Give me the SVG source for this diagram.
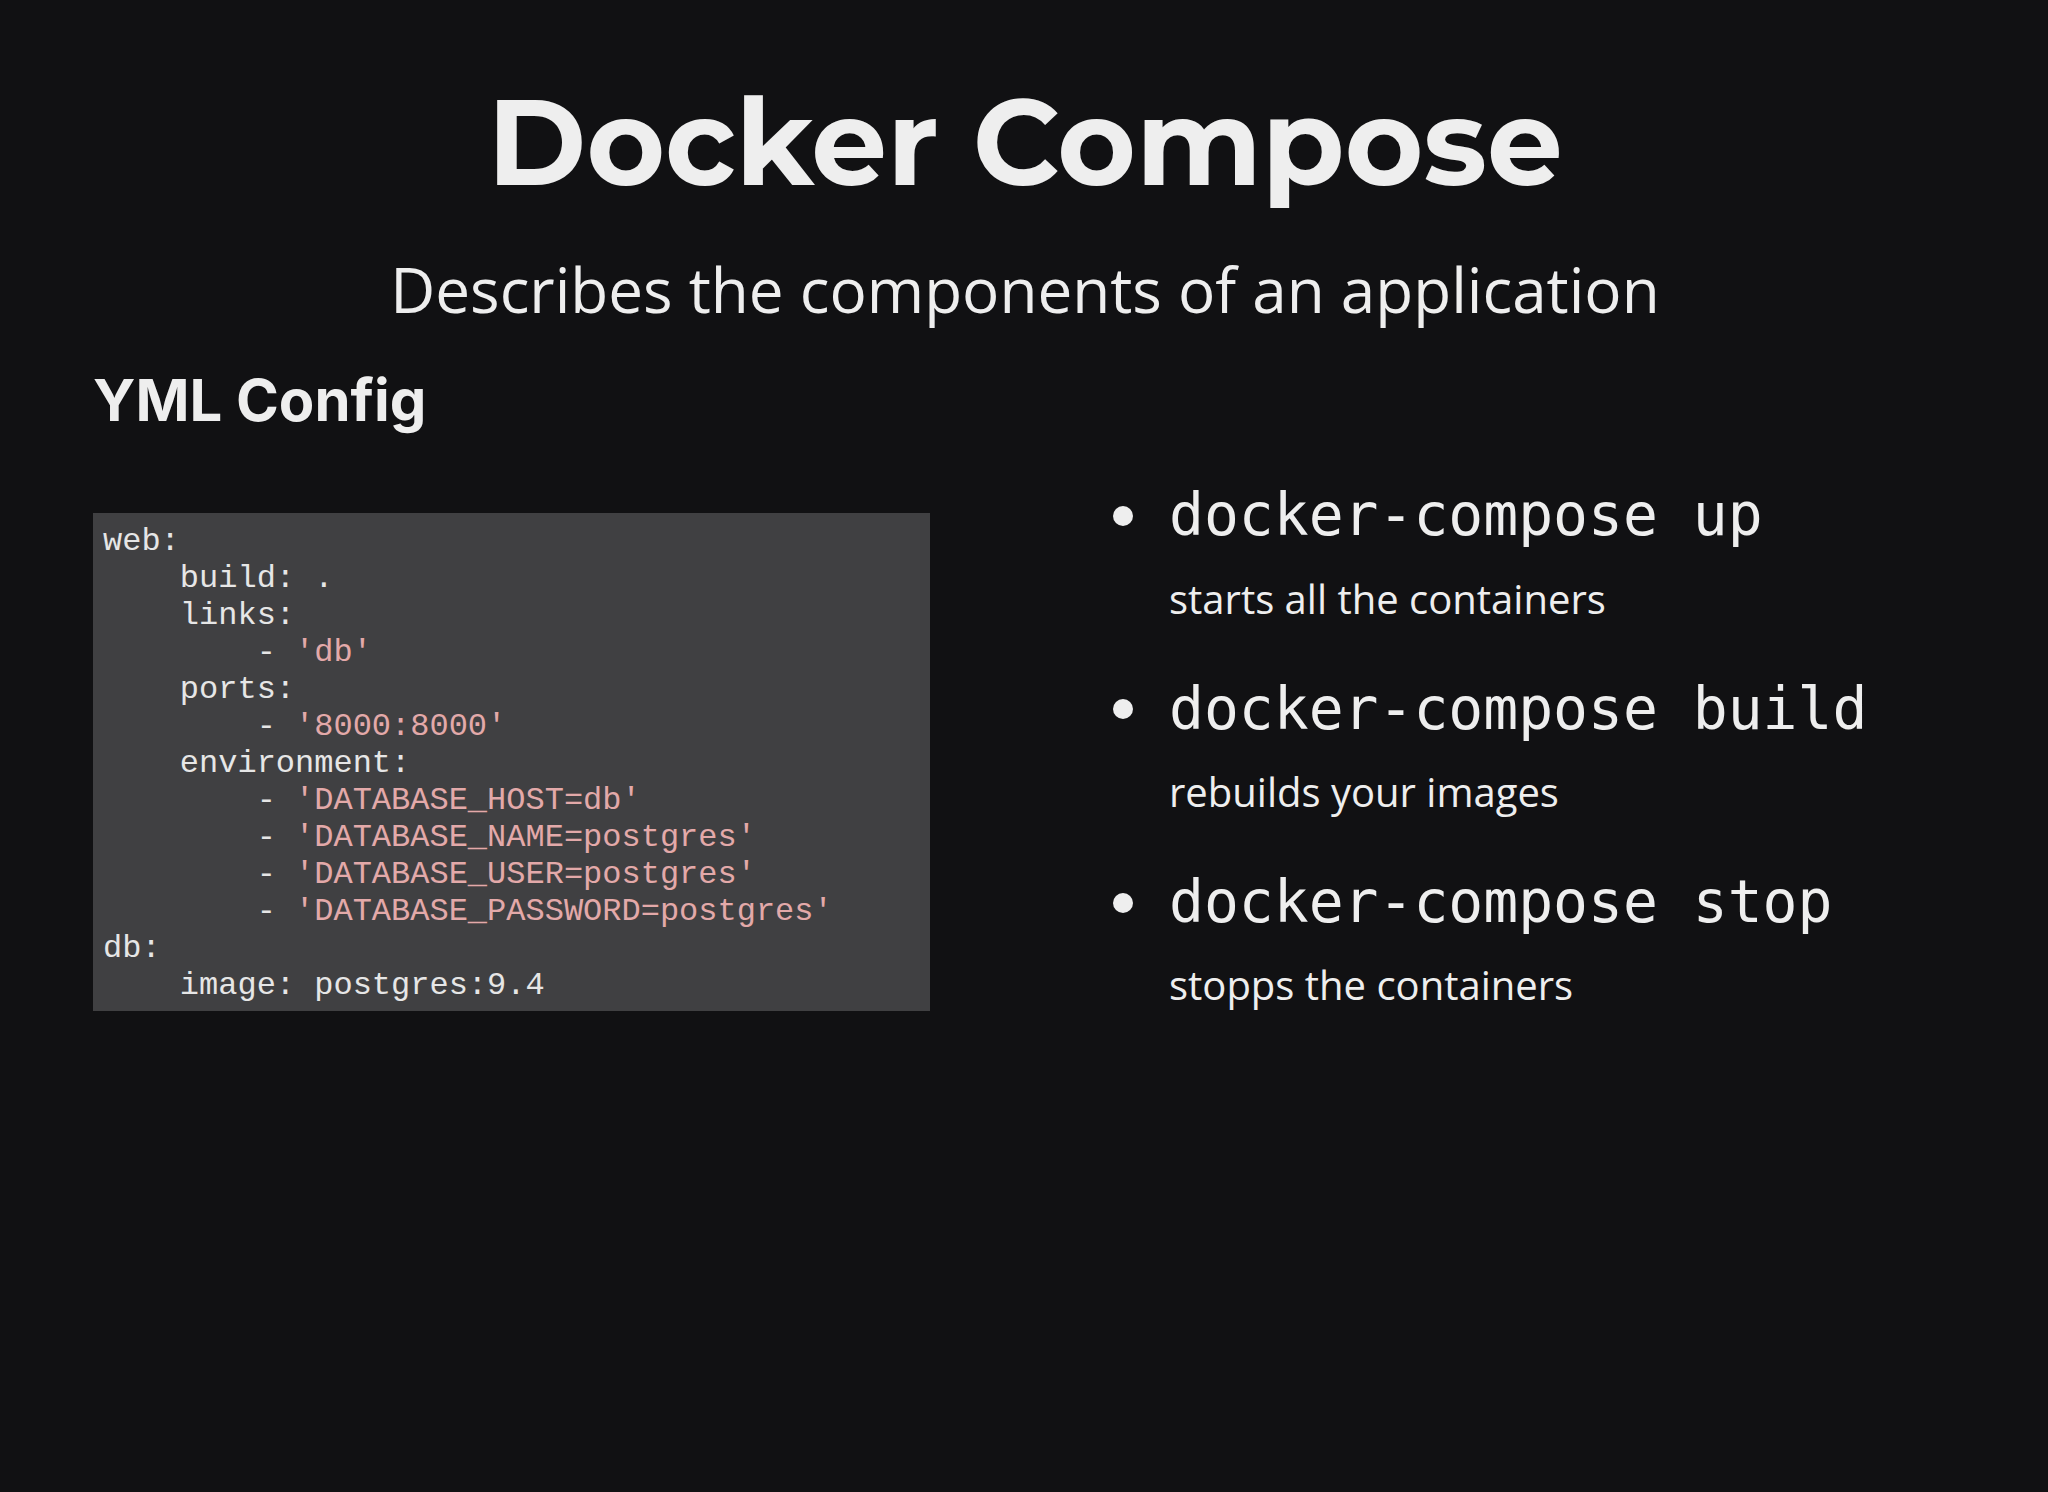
<svg xmlns="http://www.w3.org/2000/svg" width="2048" height="1492" viewBox="0 0 2048 1492">
<style>
.code{font-family:"Liberation Mono",monospace;font-size:32px;fill:#e6e6e6;white-space:pre}
.s{fill:#e3a9a9}
.cmd{font-family:"DejaVu Sans Mono",monospace;font-size:58px;fill:#eeeeee}
.desc{font-family:"Open Sans",sans-serif;font-size:40px;fill:#eeeeee}
</style>
<rect width="2048" height="1492" fill="#111113"/>
<text x="1025" y="185" text-anchor="middle" font-family="Montserrat, Inter, sans-serif" font-weight="700" font-size="120" fill="#eeeeee">Docker Compose</text>
<text x="1025" y="313" text-anchor="middle" font-family="Open Sans, sans-serif" font-size="62" fill="#eeeeee">Describes the components of an application</text>
<text x="93" y="421" font-family="Inter, sans-serif" font-weight="700" font-size="58" fill="#eeeeee">YML Config</text>
<g id="code">
<rect x="93" y="513" width="837" height="498" fill="#404042"/>
<text class="code" xml:space="preserve">
<tspan x="103" y="550">web:</tspan>
<tspan x="103" y="587">    build: .</tspan>
<tspan x="103" y="624">    links:</tspan>
<tspan x="103" y="661">        - <tspan class="s">'db'</tspan></tspan>
<tspan x="103" y="698">    ports:</tspan>
<tspan x="103" y="735">        - <tspan class="s">'8000:8000'</tspan></tspan>
<tspan x="103" y="772">    environment:</tspan>
<tspan x="103" y="809">        - <tspan class="s">'DATABASE_HOST=db'</tspan></tspan>
<tspan x="103" y="846">        - <tspan class="s">'DATABASE_NAME=postgres'</tspan></tspan>
<tspan x="103" y="883">        - <tspan class="s">'DATABASE_USER=postgres'</tspan></tspan>
<tspan x="103" y="920">        - <tspan class="s">'DATABASE_PASSWORD=postgres'</tspan></tspan>
<tspan x="103" y="957">db:</tspan>
<tspan x="103" y="994">    image: postgres:9.4</tspan>
</text>
</g>
<g id="bullet1">
<circle cx="1123" cy="516" r="10" fill="#eeeeee"/>
<text class="cmd" x="1169" y="535">docker-compose up</text>
<text class="desc" x="1169" y="614">starts all the containers</text>
</g>
<g id="bullet2">
<circle cx="1123" cy="709" r="10" fill="#eeeeee"/>
<text class="cmd" x="1169" y="729">docker-compose build</text>
<text class="desc" x="1169" y="807">rebuilds your images</text>
</g>
<g id="bullet3">
<circle cx="1123" cy="903" r="10" fill="#eeeeee"/>
<text class="cmd" x="1169" y="922">docker-compose stop</text>
<text class="desc" x="1169" y="1000">stopps the containers</text>
</g>
</svg>
